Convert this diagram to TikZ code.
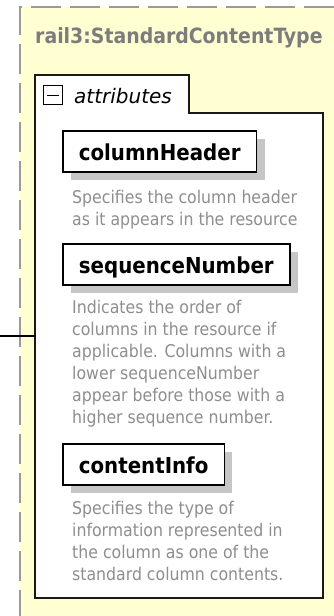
\documentclass[tikz,border=0pt]{standalone}
\usepackage{fontspec}
\setmainfont{DejaVu Sans Condensed}
\newfontfamily\oblfont{DejaVu Sans}
\usetikzlibrary{shadows}
\definecolor{bgyellow}{HTML}{FFFFD2}
\definecolor{dashgray}{HTML}{9A9A9A}
\definecolor{titlegray}{HTML}{7C7C7C}
\definecolor{descgray}{HTML}{8E8E8E}
\definecolor{shadowgray}{HTML}{C6C6C6}
\begin{document}
\begin{tikzpicture}[x=1pt,y=-1pt,
  elem/.style={draw=black, line width=1.8pt, fill=white, anchor=north west,
    minimum height=41pt, inner xsep=16pt, inner ysep=0pt,
    text height=21pt, text depth=2pt,
    font=\fontsize{22}{26}\selectfont\bfseries,
    drop shadow={shadow xshift=8pt, shadow yshift=-8pt, fill=shadowgray, opacity=1}},
  desc/.style={anchor=base west, inner sep=0pt, align=left, text=descgray,
    font=\fontsize{17.5}{22}\selectfont},
  frame/.style={draw=dashgray, line width=1.5pt, dash pattern=on 30pt off 9pt},
  boxline/.style={draw=black!90, line width=1.8pt}]
\useasboundingbox (0,0) rectangle (333,616);
% outer complex type area
\fill[bgyellow] (20,7) rectangle (340,620);
\draw[frame] (20,620) -- (20,7) -- (340,7);
\node[anchor=base west, inner sep=0pt, text=titlegray,
  font=\fontsize{21}{25}\selectfont\bfseries] (title) at (35,43) {rail3:StandardContentType};
% attributes group
\path[boxline, fill=white] (35,75) -- (189,75) -- (189,113) -- (323,113) -- (323,598) -- (35,598) -- cycle;
\coordinate (boxleft) at (35,113);
\node[draw=black, line width=1.3pt, minimum size=19pt, inner sep=0pt, anchor=north west] (minus) at (43,85) {};
\draw[line width=1.3pt] ([xshift=4pt]minus.west) -- ([xshift=-4pt]minus.east);
\node[anchor=base west, inner sep=0pt, font=\fontsize{20}{24}\selectfont\oblfont\itshape] (attrs) at (74,103) {attributes};
% connector
\coordinate (src) at (0,336);
\draw[line width=1.5pt] (src) -- (src -| boxleft);
% attributes (descriptions anchored at the baseline of their last line)
\node[elem] (colhead) at (62,130) {columnHeader};
\node[desc] (colheaddesc) at (72,225) {Specifies the column header\\as it appears in the resource};
\node[elem] (seqnum) at (62,243) {sequenceNumber};
\node[desc] (seqnumdesc) at (72,423) {Indicates the order of\\columns in the resource if\\applicable. Columns with a\\lower sequenceNumber\\appear before those with a\\higher sequence number.};
\node[elem] (content) at (62,443) {contentInfo};
\node[desc] (contentdesc) at (72,580) {Specifies the type of\\information represented in\\the column as one of the\\standard column contents.};
\end{tikzpicture}
\end{document}
